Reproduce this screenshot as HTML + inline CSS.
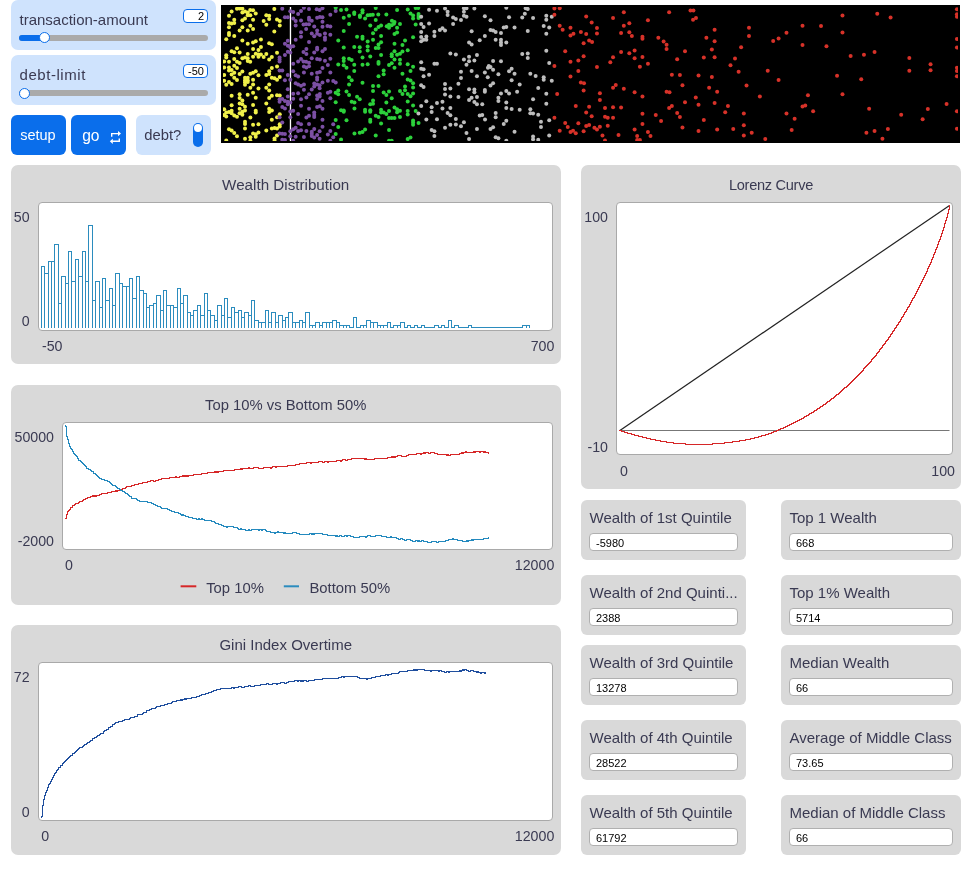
<!DOCTYPE html>
<html><head><meta charset="utf-8"><title>Wealth Distribution</title>
<style>
html,body{margin:0;padding:0;background:#fff;}
body{width:969px;height:874px;position:relative;overflow:hidden;font-family:"Liberation Sans",sans-serif;color:#3a3a52;}
.abs,.pp,.pa,.sl,.btn,.sw,.mon,.t{position:absolute;box-sizing:border-box;}
.pp{background:#d9d9d9;border-radius:7px;}
.pa{background:#fff;border:1px solid #a9a9a9;border-radius:4px;}
.sl{background:#cfe3fd;border-radius:7px;}
.t{white-space:nowrap;line-height:1;}
.ttl{font-size:15px;text-align:center;}
.ax{font-size:14.3px;}
.lab{font-size:15px;}
.track{position:absolute;height:6px;border-radius:3px;background:#aaa;}
.fill{position:absolute;height:6px;border-radius:3px;background:#0a6eeb;}
.thumb{position:absolute;width:11px;height:11px;border-radius:50%;background:#fff;border:1.5px solid #0a6eeb;box-sizing:border-box;}
.vbox{position:absolute;background:#fff;border:1px solid #0a6eeb;border-radius:4px;box-sizing:border-box;font-size:11px;color:#000;text-align:right;line-height:12px;padding-right:3px;}
.btn{background:#0a6eeb;border-radius:6px;color:#fff;font-size:15px;}
.sw{background:#cfe3fd;border-radius:6px;}
.mon{background:#d9d9d9;border-radius:6px;}
.mv{position:absolute;background:#fff;border:1px solid #b0b0b0;border-radius:4px;box-sizing:border-box;font-size:11px;color:#000;line-height:18px;padding-left:6px;height:18.7px;}
svg{position:absolute;overflow:visible;}
.view{left:221px;top:5px;}
</style></head><body>

<div class="sl" style="left:11px;top:-0.5px;width:205px;height:50px"></div><div class="t lab" style="left:19.5px;top:11.7px;letter-spacing:0px">transaction-amount</div><div class="vbox" style="left:183px;top:8.9px;width:25px;height:14px">2</div><div class="track" style="left:19px;top:34.5px;width:189px"></div><div class="fill" style="left:19px;top:34.5px;width:25.700000000000003px"></div><div class="thumb" style="left:39.2px;top:32.0px"></div>
<div class="sl" style="left:11px;top:55px;width:205px;height:50px"></div><div class="t lab" style="left:19.5px;top:67.2px;letter-spacing:0.55px">debt-limit</div><div class="vbox" style="left:183px;top:63.9px;width:25px;height:14px">-50</div><div class="track" style="left:19px;top:90px;width:189px"></div><div class="thumb" style="left:19.25px;top:87.5px"></div>
<div class="btn" style="left:11px;top:115px;width:55px;height:40px"></div><div class="t" style="left:20.2px;top:128px;font-size:14.5px;color:#fff">setup</div>
<div class="btn" style="left:71px;top:115px;width:55px;height:40px"></div><div class="t" style="left:82.2px;top:127.6px;font-size:15.6px;color:#fff">go</div>
<svg style="left:0;top:0" width="969" height="874"><g fill="none" stroke="#fff" stroke-width="1.4"><path d="M111.7 136.8V133.6H118.5"/><path d="M119.3 138.4V141.3H112.3"/></g><path d="M118 131L121 133.6L118 136.2Z" fill="#fff"/><path d="M112.8 138.7L109.8 141.3L112.8 143.9Z" fill="#fff"/></svg>
<div class="sw" style="left:136px;top:115px;width:75px;height:40px"></div><div class="t" style="left:144.2px;top:128.2px;font-size:14.8px">debt?</div>
<div class="abs" style="left:193px;top:123px;width:10px;height:24px;border-radius:5px;background:#0a6eeb"></div><div class="abs" style="left:194px;top:123.7px;width:8px;height:8px;border-radius:50%;background:#fff"></div>
<svg class="view" width="739" height="138" viewBox="221 5 739 138"><rect x="221" y="5" width="739" height="138" fill="#000"/><rect x="289.8" y="7" width="1.34" height="134" fill="#fff"/><clipPath id="vc"><rect x="223" y="7" width="735" height="134"/></clipPath><g clip-path="url(#vc)"><g fill="#f0f04a"><circle cx="231.62" cy="11.56" r="2"/><circle cx="236.99" cy="8.67" r="2"/><circle cx="239.63" cy="8.5" r="2"/><circle cx="242.36" cy="8.67" r="2"/><circle cx="242.36" cy="12.38" r="2"/><circle cx="245" cy="11.56" r="2"/><circle cx="247.72" cy="12.38" r="2"/><circle cx="250.2" cy="9.91" r="2"/><circle cx="253.09" cy="10.32" r="2"/><circle cx="255.73" cy="13.62" r="2"/><circle cx="274.31" cy="8.92" r="2"/><circle cx="228.98" cy="15.69" r="2"/><circle cx="247.72" cy="15.27" r="2"/><circle cx="250.36" cy="15.27" r="2"/><circle cx="266.3" cy="15.27" r="2"/><circle cx="269.19" cy="15.69" r="2"/><circle cx="269.19" cy="18.99" r="2"/><circle cx="234.26" cy="19.81" r="2"/><circle cx="242.36" cy="20.23" r="2"/><circle cx="245" cy="18.58" r="2"/><circle cx="253.09" cy="19.81" r="2"/><circle cx="263.66" cy="21.05" r="2"/><circle cx="277.03" cy="19.4" r="2"/><circle cx="279.75" cy="21.05" r="2"/><circle cx="228.98" cy="23.12" r="2"/><circle cx="231.62" cy="23.53" r="2"/><circle cx="234.26" cy="23.12" r="2"/><circle cx="228.98" cy="27.24" r="2"/><circle cx="242.36" cy="27.24" r="2"/><circle cx="250.36" cy="25.76" r="2"/><circle cx="253.09" cy="28.9" r="2"/><circle cx="239.63" cy="30.55" r="2"/><circle cx="247.72" cy="30.55" r="2"/><circle cx="266.3" cy="24.77" r="2"/><circle cx="279.75" cy="25.43" r="2"/><circle cx="274.31" cy="31.62" r="2"/><circle cx="228.98" cy="33.02" r="2"/><circle cx="228.98" cy="35.09" r="2"/><circle cx="234.26" cy="35.91" r="2"/><circle cx="226.26" cy="39.22" r="2"/><circle cx="242.36" cy="40.62" r="2"/><circle cx="260.93" cy="39.46" r="2"/><circle cx="253.09" cy="42.52" r="2"/><circle cx="255.73" cy="41.28" r="2"/><circle cx="247.72" cy="43.76" r="2"/><circle cx="269.19" cy="43.34" r="2"/><circle cx="271.83" cy="44.17" r="2"/><circle cx="236.99" cy="48.3" r="2"/><circle cx="231.62" cy="51.19" r="2"/><circle cx="234.26" cy="52.18" r="2"/><circle cx="239.63" cy="52.43" r="2"/><circle cx="253.09" cy="49.12" r="2"/><circle cx="260.93" cy="47.06" r="2"/><circle cx="258.45" cy="49.95" r="2"/><circle cx="247.72" cy="54.08" r="2"/><circle cx="255.73" cy="53.66" r="2"/><circle cx="258.45" cy="54.49" r="2"/><circle cx="260.93" cy="54.49" r="2"/><circle cx="266.3" cy="54.08" r="2"/><circle cx="277.03" cy="52.84" r="2"/><circle cx="226.26" cy="55.31" r="2"/><circle cx="226.26" cy="57.38" r="2"/><circle cx="234.26" cy="59.03" r="2"/><circle cx="242.36" cy="58.2" r="2"/><circle cx="245" cy="57.38" r="2"/><circle cx="247.72" cy="58.2" r="2"/><circle cx="253.09" cy="56.8" r="2"/><circle cx="258.45" cy="56.8" r="2"/><circle cx="263.66" cy="56.97" r="2"/><circle cx="271.83" cy="56.97" r="2"/><circle cx="269.19" cy="59.44" r="2"/><circle cx="224.19" cy="61.51" r="2"/><circle cx="228.98" cy="61.75" r="2"/><circle cx="236.99" cy="61.75" r="2"/><circle cx="247.72" cy="61.09" r="2"/><circle cx="250.2" cy="61.75" r="2"/><circle cx="239.63" cy="63.12" r="2"/><circle cx="224.19" cy="67.49" r="2"/><circle cx="228.98" cy="67.49" r="2"/><circle cx="234.26" cy="65.84" r="2"/><circle cx="236.99" cy="67.91" r="2"/><circle cx="271.83" cy="67.91" r="2"/><circle cx="277.03" cy="66.5" r="2"/><circle cx="228.98" cy="70.38" r="2"/><circle cx="231.62" cy="69.97" r="2"/><circle cx="234.26" cy="72.86" r="2"/><circle cx="231.62" cy="74.51" r="2"/><circle cx="224.19" cy="74.92" r="2"/><circle cx="242.36" cy="71.62" r="2"/><circle cx="239.63" cy="74.1" r="2"/><circle cx="255.73" cy="71.21" r="2"/><circle cx="253.09" cy="72.86" r="2"/><circle cx="250.36" cy="73.69" r="2"/><circle cx="258.45" cy="75.17" r="2"/><circle cx="269.19" cy="71.21" r="2"/><circle cx="269.19" cy="74.1" r="2"/><circle cx="266.3" cy="74.92" r="2"/><circle cx="234.26" cy="77.81" r="2"/><circle cx="236.99" cy="79.88" r="2"/><circle cx="245" cy="77.81" r="2"/><circle cx="247.72" cy="77.81" r="2"/><circle cx="245" cy="80.29" r="2"/><circle cx="247.72" cy="80.29" r="2"/><circle cx="245" cy="82.36" r="2"/><circle cx="247.72" cy="81.94" r="2"/><circle cx="253.09" cy="79.63" r="2"/><circle cx="271.83" cy="77.81" r="2"/><circle cx="274.55" cy="78.23" r="2"/><circle cx="277.03" cy="79.63" r="2"/><circle cx="279.75" cy="76.99" r="2"/><circle cx="224.19" cy="80.7" r="2"/><circle cx="228.98" cy="81.94" r="2"/><circle cx="231.62" cy="84.01" r="2"/><circle cx="226.26" cy="84.83" r="2"/><circle cx="245" cy="84.83" r="2"/><circle cx="253.09" cy="84.42" r="2"/><circle cx="269.19" cy="84.42" r="2"/><circle cx="250.36" cy="87.72" r="2"/><circle cx="258.45" cy="88.38" r="2"/><circle cx="266.3" cy="87.72" r="2"/><circle cx="269.19" cy="90.61" r="2"/><circle cx="253.09" cy="92.84" r="2"/><circle cx="231.62" cy="95.81" r="2"/><circle cx="239.63" cy="94.33" r="2"/><circle cx="247.72" cy="94.74" r="2"/><circle cx="239.63" cy="98.04" r="2"/><circle cx="242.36" cy="100.52" r="2"/><circle cx="255.73" cy="97.63" r="2"/><circle cx="271.83" cy="95.81" r="2"/><circle cx="269.19" cy="98.04" r="2"/><circle cx="277.03" cy="95.32" r="2"/><circle cx="279.75" cy="95.56" r="2"/><circle cx="239.63" cy="103.41" r="2"/><circle cx="242.36" cy="104.23" r="2"/><circle cx="266.3" cy="103.57" r="2"/><circle cx="231.62" cy="105.22" r="2"/><circle cx="253.09" cy="105.06" r="2"/><circle cx="245" cy="106.71" r="2"/><circle cx="239.63" cy="108.77" r="2"/><circle cx="245" cy="110.43" r="2"/><circle cx="242.36" cy="111.66" r="2"/><circle cx="239.63" cy="113.31" r="2"/><circle cx="224.19" cy="109.19" r="2"/><circle cx="269.19" cy="108.77" r="2"/><circle cx="271.83" cy="110.43" r="2"/><circle cx="269.19" cy="112.08" r="2"/><circle cx="255.73" cy="110.84" r="2"/><circle cx="255.73" cy="112.49" r="2"/><circle cx="226.26" cy="112.49" r="2"/><circle cx="228.98" cy="112.08" r="2"/><circle cx="231.62" cy="110.84" r="2"/><circle cx="231.62" cy="113.31" r="2"/><circle cx="224.19" cy="114.97" r="2"/><circle cx="226.26" cy="116.62" r="2"/><circle cx="234.26" cy="115.38" r="2"/><circle cx="236.99" cy="116.78" r="2"/><circle cx="242.36" cy="114.8" r="2"/><circle cx="250.36" cy="117.44" r="2"/><circle cx="279.75" cy="114.14" r="2"/><circle cx="277.03" cy="117.28" r="2"/><circle cx="271.83" cy="119.75" r="2"/><circle cx="245" cy="121.63" r="2"/><circle cx="245" cy="123.94" r="2"/><circle cx="253.09" cy="124.77" r="2"/><circle cx="258.45" cy="124.36" r="2"/><circle cx="279.75" cy="124.36" r="2"/><circle cx="279.75" cy="126.42" r="2"/><circle cx="245" cy="128.48" r="2"/><circle cx="228.98" cy="129.31" r="2"/><circle cx="231.62" cy="130.55" r="2"/><circle cx="234.26" cy="133.02" r="2"/><circle cx="266.3" cy="130.55" r="2"/><circle cx="271.83" cy="128.48" r="2"/><circle cx="274.55" cy="128.07" r="2"/><circle cx="277.03" cy="128.48" r="2"/><circle cx="236.99" cy="136.33" r="2"/><circle cx="253.09" cy="133.44" r="2"/><circle cx="255.73" cy="134.26" r="2"/><circle cx="258.45" cy="132.61" r="2"/><circle cx="255.73" cy="136.74" r="2"/><circle cx="250.36" cy="137.15" r="2"/><circle cx="245" cy="138.8" r="2"/><circle cx="226.26" cy="140.45" r="2"/><circle cx="250.36" cy="140.87" r="2"/><circle cx="277.03" cy="135.5" r="2"/><circle cx="274.55" cy="138.39" r="2"/><circle cx="274.55" cy="140.45" r="2"/></g><g fill="#7c50a4"><circle cx="282.28" cy="8.67" r="2"/><circle cx="303.91" cy="7.84" r="2"/><circle cx="309.03" cy="9.08" r="2"/><circle cx="316.71" cy="9.25" r="2"/><circle cx="319.6" cy="9.91" r="2"/><circle cx="322.49" cy="8.26" r="2"/><circle cx="290.29" cy="11.15" r="2"/><circle cx="293.18" cy="11.97" r="2"/><circle cx="301.02" cy="10.98" r="2"/><circle cx="298.13" cy="14.04" r="2"/><circle cx="335.7" cy="10.98" r="2"/><circle cx="330.33" cy="14.7" r="2"/><circle cx="284.92" cy="17.34" r="2"/><circle cx="287.81" cy="17.17" r="2"/><circle cx="293.18" cy="18.58" r="2"/><circle cx="295.66" cy="21.05" r="2"/><circle cx="301.02" cy="20.47" r="2"/><circle cx="309.03" cy="17.75" r="2"/><circle cx="309.03" cy="19.81" r="2"/><circle cx="311.76" cy="20.64" r="2"/><circle cx="317.12" cy="17.75" r="2"/><circle cx="319.85" cy="16.92" r="2"/><circle cx="322.49" cy="17.34" r="2"/><circle cx="322.49" cy="21.63" r="2"/><circle cx="295.66" cy="25.43" r="2"/><circle cx="303.5" cy="24.52" r="2"/><circle cx="306.14" cy="24.36" r="2"/><circle cx="309.03" cy="24.36" r="2"/><circle cx="314.23" cy="26.58" r="2"/><circle cx="322.49" cy="26.83" r="2"/><circle cx="327.44" cy="26.01" r="2"/><circle cx="330.33" cy="26.58" r="2"/><circle cx="306.14" cy="28.9" r="2"/><circle cx="301.02" cy="32.36" r="2"/><circle cx="317.12" cy="30.55" r="2"/><circle cx="311.76" cy="33.44" r="2"/><circle cx="317.12" cy="33.85" r="2"/><circle cx="319.85" cy="35.09" r="2"/><circle cx="314.23" cy="36.16" r="2"/><circle cx="324.97" cy="33.44" r="2"/><circle cx="330.33" cy="34.67" r="2"/><circle cx="301.02" cy="36.74" r="2"/><circle cx="324.97" cy="37.56" r="2"/><circle cx="324.97" cy="39.63" r="2"/><circle cx="295.66" cy="39.79" r="2"/><circle cx="309.03" cy="42.11" r="2"/><circle cx="287.81" cy="40.87" r="2"/><circle cx="284.92" cy="43.76" r="2"/><circle cx="287.81" cy="45.82" r="2"/><circle cx="290.29" cy="46.23" r="2"/><circle cx="293.18" cy="46.23" r="2"/><circle cx="290.29" cy="47.47" r="2"/><circle cx="306.39" cy="49.12" r="2"/><circle cx="317.12" cy="47.72" r="2"/><circle cx="317.12" cy="49.54" r="2"/><circle cx="324.97" cy="49.12" r="2"/><circle cx="322.49" cy="51.19" r="2"/><circle cx="303.5" cy="52.01" r="2"/><circle cx="306.39" cy="54.08" r="2"/><circle cx="314.23" cy="52.43" r="2"/><circle cx="287.81" cy="51.85" r="2"/><circle cx="290.29" cy="52.43" r="2"/><circle cx="284.92" cy="54.9" r="2"/><circle cx="279.56" cy="57.38" r="2"/><circle cx="279.56" cy="59.44" r="2"/><circle cx="301.02" cy="59.03" r="2"/><circle cx="311.76" cy="58.2" r="2"/><circle cx="317.12" cy="59.03" r="2"/><circle cx="319.85" cy="59.44" r="2"/><circle cx="330.33" cy="58.78" r="2"/><circle cx="324.97" cy="60.68" r="2"/><circle cx="298.13" cy="61.51" r="2"/><circle cx="303.5" cy="61.51" r="2"/><circle cx="306.14" cy="61.75" r="2"/><circle cx="279.56" cy="61.51" r="2"/><circle cx="293.18" cy="63.78" r="2"/><circle cx="309.03" cy="62.79" r="2"/><circle cx="327.86" cy="65.02" r="2"/><circle cx="303.91" cy="66.5" r="2"/><circle cx="306.39" cy="67.49" r="2"/><circle cx="309.03" cy="66.26" r="2"/><circle cx="322.49" cy="67.91" r="2"/><circle cx="279.56" cy="70.55" r="2"/><circle cx="282.28" cy="70.38" r="2"/><circle cx="293.18" cy="71.21" r="2"/><circle cx="303.91" cy="72.45" r="2"/><circle cx="311.76" cy="73.69" r="2"/><circle cx="317.12" cy="72.86" r="2"/><circle cx="319.85" cy="72.04" r="2"/><circle cx="330.33" cy="72.45" r="2"/><circle cx="287.81" cy="74.92" r="2"/><circle cx="295.66" cy="75.17" r="2"/><circle cx="298.13" cy="76.58" r="2"/><circle cx="317.12" cy="77.4" r="2"/><circle cx="317.12" cy="79.63" r="2"/><circle cx="284.92" cy="80.29" r="2"/><circle cx="290.29" cy="79.63" r="2"/><circle cx="327.86" cy="80.7" r="2"/><circle cx="333.22" cy="81.12" r="2"/><circle cx="335.7" cy="82.6" r="2"/><circle cx="322.49" cy="82.6" r="2"/><circle cx="295.66" cy="83.18" r="2"/><circle cx="298.13" cy="84.42" r="2"/><circle cx="301.02" cy="85.66" r="2"/><circle cx="303.91" cy="84.42" r="2"/><circle cx="314.23" cy="83.59" r="2"/><circle cx="317.12" cy="84.42" r="2"/><circle cx="319.6" cy="85.24" r="2"/><circle cx="314.23" cy="86.48" r="2"/><circle cx="319.6" cy="88.13" r="2"/><circle cx="287.81" cy="89.21" r="2"/><circle cx="303.91" cy="89.79" r="2"/><circle cx="311.76" cy="89.54" r="2"/><circle cx="293.18" cy="93.67" r="2"/><circle cx="298.13" cy="93.34" r="2"/><circle cx="309.03" cy="94.33" r="2"/><circle cx="327.86" cy="92.67" r="2"/><circle cx="330.33" cy="91.85" r="2"/><circle cx="317.12" cy="95.56" r="2"/><circle cx="319.85" cy="93.91" r="2"/><circle cx="319.6" cy="96.39" r="2"/><circle cx="287.81" cy="96.39" r="2"/><circle cx="306.39" cy="97.46" r="2"/><circle cx="293.18" cy="98.87" r="2"/><circle cx="301.02" cy="99.28" r="2"/><circle cx="317.12" cy="99.03" r="2"/><circle cx="330.33" cy="98.29" r="2"/><circle cx="322.49" cy="101.1" r="2"/><circle cx="279.56" cy="99.28" r="2"/><circle cx="282.28" cy="99.03" r="2"/><circle cx="279.56" cy="101.76" r="2"/><circle cx="284.92" cy="100.93" r="2"/><circle cx="287.81" cy="101.76" r="2"/><circle cx="290.29" cy="102.58" r="2"/><circle cx="287.81" cy="104.23" r="2"/><circle cx="301.02" cy="105.64" r="2"/><circle cx="282.28" cy="106.88" r="2"/><circle cx="284.92" cy="108.53" r="2"/><circle cx="317.12" cy="106.88" r="2"/><circle cx="319.85" cy="106.3" r="2"/><circle cx="322.49" cy="108.77" r="2"/><circle cx="309.03" cy="108.77" r="2"/><circle cx="290.29" cy="111.5" r="2"/><circle cx="293.18" cy="110.84" r="2"/><circle cx="298.13" cy="113.98" r="2"/><circle cx="314.23" cy="112.49" r="2"/><circle cx="314.23" cy="114.97" r="2"/><circle cx="309.03" cy="115.79" r="2"/><circle cx="306.39" cy="117.44" r="2"/><circle cx="314.23" cy="117.03" r="2"/><circle cx="279.56" cy="117.28" r="2"/><circle cx="290.29" cy="117.28" r="2"/><circle cx="322.49" cy="119.75" r="2"/><circle cx="282.28" cy="122.46" r="2"/><circle cx="298.13" cy="123.12" r="2"/><circle cx="301.02" cy="124.36" r="2"/><circle cx="309.03" cy="124.11" r="2"/><circle cx="333.22" cy="124.36" r="2"/><circle cx="322.49" cy="126.83" r="2"/><circle cx="295.66" cy="127.66" r="2"/><circle cx="293.18" cy="129.31" r="2"/><circle cx="290.29" cy="131.21" r="2"/><circle cx="298.13" cy="130.96" r="2"/><circle cx="301.02" cy="130.13" r="2"/><circle cx="306.39" cy="130.96" r="2"/><circle cx="314.23" cy="128.9" r="2"/><circle cx="311.76" cy="131.79" r="2"/><circle cx="319.6" cy="131.37" r="2"/><circle cx="330.33" cy="130.96" r="2"/><circle cx="311.76" cy="133.85" r="2"/><circle cx="311.76" cy="135.91" r="2"/><circle cx="317.12" cy="135.09" r="2"/><circle cx="314.23" cy="137.56" r="2"/><circle cx="327.86" cy="134.51" r="2"/><circle cx="333.22" cy="137.15" r="2"/><circle cx="279.56" cy="133.44" r="2"/><circle cx="282.28" cy="133.85" r="2"/><circle cx="284.92" cy="134.01" r="2"/><circle cx="290.29" cy="136.33" r="2"/><circle cx="295.66" cy="136.74" r="2"/><circle cx="303.91" cy="136.99" r="2"/><circle cx="319.6" cy="138.8" r="2"/><circle cx="282.28" cy="139.63" r="2"/><circle cx="284.92" cy="139.88" r="2"/><circle cx="293.18" cy="140.87" r="2"/><circle cx="330.33" cy="140.87" r="2"/></g><g fill="#2cd13b"><circle cx="335.68" cy="7.74" r="2"/><circle cx="341.04" cy="10.01" r="2"/><circle cx="346.51" cy="9.49" r="2"/><circle cx="375.72" cy="8.05" r="2"/><circle cx="397.08" cy="10.11" r="2"/><circle cx="407.71" cy="9.49" r="2"/><circle cx="415.66" cy="8.05" r="2"/><circle cx="418.24" cy="8.05" r="2"/><circle cx="354.25" cy="12.38" r="2"/><circle cx="354.25" cy="13.93" r="2"/><circle cx="362.51" cy="10.32" r="2"/><circle cx="362.51" cy="12.38" r="2"/><circle cx="359.93" cy="15.48" r="2"/><circle cx="359.93" cy="17.03" r="2"/><circle cx="367.67" cy="15.27" r="2"/><circle cx="370.25" cy="15.07" r="2"/><circle cx="372.83" cy="14.76" r="2"/><circle cx="378.3" cy="14.45" r="2"/><circle cx="386.35" cy="14.55" r="2"/><circle cx="410.5" cy="13.42" r="2"/><circle cx="413.08" cy="15.48" r="2"/><circle cx="413.08" cy="18.58" r="2"/><circle cx="418.54" cy="13.93" r="2"/><circle cx="418.54" cy="16" r="2"/><circle cx="418.54" cy="18.06" r="2"/><circle cx="343.73" cy="17.75" r="2"/><circle cx="349.09" cy="15.69" r="2"/><circle cx="365.09" cy="18.58" r="2"/><circle cx="375.72" cy="20.12" r="2"/><circle cx="391.92" cy="20.64" r="2"/><circle cx="394.5" cy="21.88" r="2"/><circle cx="349.09" cy="23.94" r="2"/><circle cx="370.25" cy="25.49" r="2"/><circle cx="381.08" cy="25.49" r="2"/><circle cx="378.5" cy="27.04" r="2"/><circle cx="375.72" cy="29.41" r="2"/><circle cx="389.03" cy="24.77" r="2"/><circle cx="386.76" cy="26.32" r="2"/><circle cx="389.03" cy="27.66" r="2"/><circle cx="391.71" cy="25.28" r="2"/><circle cx="393.98" cy="23.74" r="2"/><circle cx="399.97" cy="24.05" r="2"/><circle cx="397.08" cy="27.66" r="2"/><circle cx="415.66" cy="24.56" r="2"/><circle cx="343.73" cy="30.96" r="2"/><circle cx="373.03" cy="33.33" r="2"/><circle cx="397.08" cy="32.51" r="2"/><circle cx="394.5" cy="34.06" r="2"/><circle cx="357.04" cy="36.84" r="2"/><circle cx="362.51" cy="36.64" r="2"/><circle cx="362.51" cy="38.7" r="2"/><circle cx="381.08" cy="36.12" r="2"/><circle cx="413.08" cy="37.36" r="2"/><circle cx="338.26" cy="40.56" r="2"/><circle cx="367.67" cy="41.59" r="2"/><circle cx="373.03" cy="39.73" r="2"/><circle cx="381.08" cy="42.31" r="2"/><circle cx="378.5" cy="44.38" r="2"/><circle cx="405.03" cy="40.56" r="2"/><circle cx="394.5" cy="43.86" r="2"/><circle cx="402.45" cy="44.89" r="2"/><circle cx="343.73" cy="47.47" r="2"/><circle cx="354.25" cy="46.96" r="2"/><circle cx="359.72" cy="47.27" r="2"/><circle cx="367.67" cy="46.44" r="2"/><circle cx="367.67" cy="50.57" r="2"/><circle cx="359.72" cy="51.6" r="2"/><circle cx="375.72" cy="47.99" r="2"/><circle cx="378.5" cy="47.99" r="2"/><circle cx="407.71" cy="50.26" r="2"/><circle cx="394.5" cy="51.29" r="2"/><circle cx="402.45" cy="51.6" r="2"/><circle cx="391.71" cy="54.18" r="2"/><circle cx="391.71" cy="56.24" r="2"/><circle cx="397.08" cy="54.7" r="2"/><circle cx="399.97" cy="53.87" r="2"/><circle cx="381.08" cy="55.01" r="2"/><circle cx="370.25" cy="56.45" r="2"/><circle cx="362.51" cy="57.48" r="2"/><circle cx="343.73" cy="58.31" r="2"/><circle cx="343.73" cy="60.89" r="2"/><circle cx="349.09" cy="58.82" r="2"/><circle cx="351.67" cy="60.06" r="2"/><circle cx="394.5" cy="59.55" r="2"/><circle cx="399.97" cy="59.86" r="2"/><circle cx="399.97" cy="63.78" r="2"/><circle cx="378.5" cy="61.92" r="2"/><circle cx="378.5" cy="63.78" r="2"/><circle cx="391.71" cy="63.16" r="2"/><circle cx="389.03" cy="65.02" r="2"/><circle cx="338.26" cy="64.5" r="2"/><circle cx="343.73" cy="65.22" r="2"/><circle cx="354.25" cy="64.71" r="2"/><circle cx="362.51" cy="64.81" r="2"/><circle cx="367.67" cy="64.19" r="2"/><circle cx="407.71" cy="64.29" r="2"/><circle cx="413.08" cy="66.77" r="2"/><circle cx="346.51" cy="67.8" r="2"/><circle cx="394.5" cy="67.8" r="2"/><circle cx="354.25" cy="71" r="2"/><circle cx="383.66" cy="70.38" r="2"/><circle cx="410.5" cy="71" r="2"/><circle cx="383.66" cy="74.3" r="2"/><circle cx="402.45" cy="73.79" r="2"/><circle cx="378.5" cy="76.37" r="2"/><circle cx="349.09" cy="77.19" r="2"/><circle cx="351.67" cy="80.26" r="2"/><circle cx="349.09" cy="84.38" r="2"/><circle cx="362.51" cy="82.84" r="2"/><circle cx="407.71" cy="79.43" r="2"/><circle cx="410.5" cy="80.46" r="2"/><circle cx="413.08" cy="83.35" r="2"/><circle cx="373.03" cy="85.93" r="2"/><circle cx="378.5" cy="85.93" r="2"/><circle cx="405.03" cy="86.45" r="2"/><circle cx="413.08" cy="87.48" r="2"/><circle cx="338.26" cy="90.58" r="2"/><circle cx="335.68" cy="92.64" r="2"/><circle cx="338.26" cy="94.19" r="2"/><circle cx="346.51" cy="91.61" r="2"/><circle cx="349.09" cy="94.91" r="2"/><circle cx="373.03" cy="90.89" r="2"/><circle cx="383.66" cy="92.43" r="2"/><circle cx="389.03" cy="91.4" r="2"/><circle cx="386.35" cy="94.91" r="2"/><circle cx="399.97" cy="90.89" r="2"/><circle cx="405.03" cy="90.37" r="2"/><circle cx="402.45" cy="93.88" r="2"/><circle cx="407.71" cy="93.88" r="2"/><circle cx="410.5" cy="96.25" r="2"/><circle cx="413.08" cy="93.47" r="2"/><circle cx="357.04" cy="96.77" r="2"/><circle cx="359.72" cy="99.35" r="2"/><circle cx="391.71" cy="98.32" r="2"/><circle cx="373.03" cy="100.38" r="2"/><circle cx="335.68" cy="102.13" r="2"/><circle cx="351.67" cy="101.72" r="2"/><circle cx="354.46" cy="102.55" r="2"/><circle cx="370.25" cy="104.2" r="2"/><circle cx="373.03" cy="103.79" r="2"/><circle cx="386.35" cy="102.55" r="2"/><circle cx="407.71" cy="101.41" r="2"/><circle cx="413.08" cy="105.54" r="2"/><circle cx="341.04" cy="110.18" r="2"/><circle cx="343.73" cy="110.39" r="2"/><circle cx="343.73" cy="111.73" r="2"/><circle cx="354.46" cy="108.43" r="2"/><circle cx="365.09" cy="109.67" r="2"/><circle cx="365.09" cy="111.73" r="2"/><circle cx="370.25" cy="110.18" r="2"/><circle cx="370.25" cy="111.73" r="2"/><circle cx="381.08" cy="109.67" r="2"/><circle cx="381.08" cy="112.56" r="2"/><circle cx="383.66" cy="112.56" r="2"/><circle cx="386.35" cy="114.11" r="2"/><circle cx="389.03" cy="111.01" r="2"/><circle cx="394.5" cy="107.6" r="2"/><circle cx="397.08" cy="109.15" r="2"/><circle cx="399.97" cy="110.7" r="2"/><circle cx="397.08" cy="112.25" r="2"/><circle cx="407.71" cy="111.01" r="2"/><circle cx="407.71" cy="114.52" r="2"/><circle cx="415.66" cy="111.01" r="2"/><circle cx="375.72" cy="115.86" r="2"/><circle cx="378.5" cy="116.89" r="2"/><circle cx="389.03" cy="117.92" r="2"/><circle cx="391.71" cy="117.92" r="2"/><circle cx="394.5" cy="117.92" r="2"/><circle cx="399.97" cy="117.1" r="2"/><circle cx="335.68" cy="119.99" r="2"/><circle cx="346.51" cy="120.19" r="2"/><circle cx="370.25" cy="119.68" r="2"/><circle cx="370.25" cy="121.85" r="2"/><circle cx="381.08" cy="123.6" r="2"/><circle cx="413.08" cy="120.5" r="2"/><circle cx="413.08" cy="122.57" r="2"/><circle cx="413.08" cy="124.84" r="2"/><circle cx="418.54" cy="123.08" r="2"/><circle cx="338.26" cy="127.01" r="2"/><circle cx="365.09" cy="129.48" r="2"/><circle cx="389.03" cy="130" r="2"/><circle cx="335.68" cy="133.92" r="2"/><circle cx="354.46" cy="133.61" r="2"/><circle cx="359.72" cy="132.68" r="2"/><circle cx="362.51" cy="132.06" r="2"/><circle cx="375.72" cy="135.47" r="2"/><circle cx="341.04" cy="139.6" r="2"/><circle cx="407.71" cy="139.08" r="2"/><circle cx="410.5" cy="137.53" r="2"/><circle cx="389.03" cy="140.63" r="2"/><circle cx="391.71" cy="140.63" r="2"/></g><g fill="#bdbdbd"><circle cx="429.07" cy="9.78" r="2"/><circle cx="436.97" cy="10.64" r="2"/><circle cx="445.03" cy="8.58" r="2"/><circle cx="447.61" cy="11.67" r="2"/><circle cx="463.91" cy="8.24" r="2"/><circle cx="466.48" cy="8.24" r="2"/><circle cx="463.91" cy="11.67" r="2"/><circle cx="474.38" cy="8.58" r="2"/><circle cx="506.3" cy="7.72" r="2"/><circle cx="525.69" cy="8.24" r="2"/><circle cx="527.75" cy="8.92" r="2"/><circle cx="524.83" cy="13.73" r="2"/><circle cx="421.18" cy="16.65" r="2"/><circle cx="447.61" cy="15.1" r="2"/><circle cx="453.1" cy="17.5" r="2"/><circle cx="455.84" cy="18.88" r="2"/><circle cx="463.91" cy="15.79" r="2"/><circle cx="466.48" cy="16.82" r="2"/><circle cx="460.99" cy="19.91" r="2"/><circle cx="484.85" cy="16.3" r="2"/><circle cx="490.51" cy="20.25" r="2"/><circle cx="509.04" cy="17.16" r="2"/><circle cx="522.26" cy="17.5" r="2"/><circle cx="533.07" cy="18.02" r="2"/><circle cx="546.29" cy="15.79" r="2"/><circle cx="551.78" cy="16.82" r="2"/><circle cx="546.29" cy="19.74" r="2"/><circle cx="421.18" cy="24.03" r="2"/><circle cx="429.07" cy="23.51" r="2"/><circle cx="423.58" cy="26.94" r="2"/><circle cx="453.1" cy="24.03" r="2"/><circle cx="442.46" cy="28.32" r="2"/><circle cx="439.88" cy="30.03" r="2"/><circle cx="445.03" cy="30.55" r="2"/><circle cx="503.72" cy="27.46" r="2"/><circle cx="506.3" cy="26.94" r="2"/><circle cx="514.54" cy="27.46" r="2"/><circle cx="543.71" cy="26.09" r="2"/><circle cx="549.2" cy="27.46" r="2"/><circle cx="421.18" cy="32.09" r="2"/><circle cx="434.39" cy="31.75" r="2"/><circle cx="471.63" cy="31.23" r="2"/><circle cx="490.51" cy="30.03" r="2"/><circle cx="493.08" cy="30.55" r="2"/><circle cx="495.66" cy="32.09" r="2"/><circle cx="500.98" cy="33.12" r="2"/><circle cx="527.75" cy="30.89" r="2"/><circle cx="546.29" cy="33.81" r="2"/><circle cx="421.18" cy="36.9" r="2"/><circle cx="426.33" cy="36.38" r="2"/><circle cx="434.39" cy="36.04" r="2"/><circle cx="423.58" cy="39.81" r="2"/><circle cx="426.33" cy="39.81" r="2"/><circle cx="421.18" cy="41.19" r="2"/><circle cx="484.85" cy="36.04" r="2"/><circle cx="479.7" cy="40.33" r="2"/><circle cx="495.66" cy="39.81" r="2"/><circle cx="500.98" cy="39.81" r="2"/><circle cx="500.98" cy="42.39" r="2"/><circle cx="500.98" cy="44.96" r="2"/><circle cx="506.3" cy="42.39" r="2"/><circle cx="469.06" cy="42.56" r="2"/><circle cx="471.63" cy="44.62" r="2"/><circle cx="450.35" cy="53.54" r="2"/><circle cx="455.84" cy="54.57" r="2"/><circle cx="476.95" cy="54.92" r="2"/><circle cx="469.06" cy="56.63" r="2"/><circle cx="546.29" cy="50.63" r="2"/><circle cx="522.26" cy="54.06" r="2"/><circle cx="527.75" cy="53.54" r="2"/><circle cx="527.75" cy="58.01" r="2"/><circle cx="421.18" cy="62.3" r="2"/><circle cx="434.39" cy="63.84" r="2"/><circle cx="436.97" cy="63.84" r="2"/><circle cx="463.91" cy="59.55" r="2"/><circle cx="469.06" cy="61.27" r="2"/><circle cx="474.38" cy="60.41" r="2"/><circle cx="466.48" cy="64.87" r="2"/><circle cx="493.08" cy="60.92" r="2"/><circle cx="500.98" cy="61.27" r="2"/><circle cx="549.2" cy="62.98" r="2"/><circle cx="421.18" cy="68.65" r="2"/><circle cx="423.58" cy="69.16" r="2"/><circle cx="488.79" cy="66.07" r="2"/><circle cx="490.51" cy="66.93" r="2"/><circle cx="487.94" cy="67.79" r="2"/><circle cx="493.08" cy="69.85" r="2"/><circle cx="511.62" cy="68.65" r="2"/><circle cx="509.04" cy="71.22" r="2"/><circle cx="460.99" cy="71.74" r="2"/><circle cx="471.63" cy="70.88" r="2"/><circle cx="484.85" cy="72.42" r="2"/><circle cx="429.07" cy="74.65" r="2"/><circle cx="423.58" cy="76.37" r="2"/><circle cx="476.95" cy="76.37" r="2"/><circle cx="498.4" cy="74.31" r="2"/><circle cx="514.54" cy="73.79" r="2"/><circle cx="530.33" cy="73.79" r="2"/><circle cx="535.65" cy="76.03" r="2"/><circle cx="543.71" cy="77.23" r="2"/><circle cx="543.71" cy="79.8" r="2"/><circle cx="551.78" cy="80.66" r="2"/><circle cx="460.99" cy="78.08" r="2"/><circle cx="487.76" cy="77.23" r="2"/><circle cx="511.62" cy="80.32" r="2"/><circle cx="445.03" cy="84.09" r="2"/><circle cx="458.42" cy="83.75" r="2"/><circle cx="493.08" cy="83.23" r="2"/><circle cx="490.51" cy="85.46" r="2"/><circle cx="519.69" cy="84.61" r="2"/><circle cx="421.18" cy="85.29" r="2"/><circle cx="423.58" cy="87.01" r="2"/><circle cx="445.03" cy="88.9" r="2"/><circle cx="450.35" cy="88.38" r="2"/><circle cx="469.06" cy="89.24" r="2"/><circle cx="474.38" cy="89.58" r="2"/><circle cx="474.38" cy="92.33" r="2"/><circle cx="484.85" cy="90.1" r="2"/><circle cx="484.85" cy="91.81" r="2"/><circle cx="506.3" cy="90.96" r="2"/><circle cx="500.98" cy="93.53" r="2"/><circle cx="509.04" cy="93.53" r="2"/><circle cx="517.11" cy="91.81" r="2"/><circle cx="538.22" cy="88.04" r="2"/><circle cx="546.29" cy="93.87" r="2"/><circle cx="445.03" cy="94.39" r="2"/><circle cx="450.35" cy="96.62" r="2"/><circle cx="458.42" cy="96.96" r="2"/><circle cx="471.63" cy="97.82" r="2"/><circle cx="469.06" cy="99.88" r="2"/><circle cx="476.95" cy="96.96" r="2"/><circle cx="498.4" cy="97.82" r="2"/><circle cx="498.4" cy="100.91" r="2"/><circle cx="533.07" cy="99.19" r="2"/><circle cx="426.33" cy="101.25" r="2"/><circle cx="436.97" cy="102.97" r="2"/><circle cx="442.46" cy="101.77" r="2"/><circle cx="474.38" cy="102.11" r="2"/><circle cx="476.95" cy="104.17" r="2"/><circle cx="482.27" cy="104.17" r="2"/><circle cx="506.3" cy="102.45" r="2"/><circle cx="546.29" cy="103.66" r="2"/><circle cx="421.18" cy="106.06" r="2"/><circle cx="431.65" cy="107.26" r="2"/><circle cx="442.46" cy="108.46" r="2"/><circle cx="450.35" cy="108.12" r="2"/><circle cx="506.3" cy="108.12" r="2"/><circle cx="511.62" cy="108.98" r="2"/><circle cx="519.69" cy="109.83" r="2"/><circle cx="530.33" cy="109.32" r="2"/><circle cx="431.65" cy="111.89" r="2"/><circle cx="447.61" cy="112.92" r="2"/><circle cx="450.35" cy="115.33" r="2"/><circle cx="495.66" cy="112.92" r="2"/><circle cx="530.33" cy="113.27" r="2"/><circle cx="533.07" cy="113.61" r="2"/><circle cx="538.22" cy="114.64" r="2"/><circle cx="479.7" cy="115.5" r="2"/><circle cx="482.27" cy="114.98" r="2"/><circle cx="495.66" cy="117.21" r="2"/><circle cx="418.43" cy="113.61" r="2"/><circle cx="426.33" cy="119.62" r="2"/><circle cx="436.97" cy="119.27" r="2"/><circle cx="455.84" cy="118.93" r="2"/><circle cx="485.02" cy="119.62" r="2"/><circle cx="506.3" cy="120.65" r="2"/><circle cx="549.2" cy="120.13" r="2"/><circle cx="463.91" cy="122.19" r="2"/><circle cx="540.97" cy="121.85" r="2"/><circle cx="450.35" cy="124.76" r="2"/><circle cx="455.84" cy="124.42" r="2"/><circle cx="460.99" cy="126.14" r="2"/><circle cx="503.72" cy="123.91" r="2"/><circle cx="445.03" cy="127.85" r="2"/><circle cx="493.08" cy="127.34" r="2"/><circle cx="490.51" cy="129.05" r="2"/><circle cx="540.97" cy="127" r="2"/><circle cx="476.95" cy="129.05" r="2"/><circle cx="431.65" cy="129.91" r="2"/><circle cx="434.39" cy="131.29" r="2"/><circle cx="514.54" cy="131.8" r="2"/><circle cx="466.48" cy="133" r="2"/><circle cx="434.39" cy="135.92" r="2"/><circle cx="533.07" cy="136.43" r="2"/><circle cx="549.2" cy="135.58" r="2"/><circle cx="495.66" cy="137.29" r="2"/><circle cx="498.4" cy="138.15" r="2"/><circle cx="469.06" cy="139.01" r="2"/><circle cx="533.07" cy="139.35" r="2"/><circle cx="538.22" cy="139.69" r="2"/><circle cx="506.3" cy="140.72" r="2"/></g><g fill="#d73229"><circle cx="554.41" cy="8.43" r="2"/><circle cx="559.71" cy="8.24" r="2"/><circle cx="554.41" cy="14.71" r="2"/><circle cx="623.82" cy="12.16" r="2"/><circle cx="669.12" cy="12.16" r="2"/><circle cx="690.49" cy="10.39" r="2"/><circle cx="693.43" cy="10.39" r="2"/><circle cx="586.18" cy="16.47" r="2"/><circle cx="613.04" cy="18.04" r="2"/><circle cx="695.98" cy="18.04" r="2"/><circle cx="693.04" cy="19.8" r="2"/><circle cx="647.94" cy="20.2" r="2"/><circle cx="591.67" cy="22.55" r="2"/><circle cx="629.31" cy="23.33" r="2"/><circle cx="559.71" cy="25.69" r="2"/><circle cx="623.82" cy="25.69" r="2"/><circle cx="570.49" cy="27.65" r="2"/><circle cx="596.96" cy="28.04" r="2"/><circle cx="562.65" cy="29.8" r="2"/><circle cx="714.61" cy="29.8" r="2"/><circle cx="580.88" cy="31.96" r="2"/><circle cx="629.31" cy="32.35" r="2"/><circle cx="573.43" cy="33.73" r="2"/><circle cx="586.18" cy="34.12" r="2"/><circle cx="596.96" cy="33.53" r="2"/><circle cx="621.08" cy="32.94" r="2"/><circle cx="570.49" cy="35.49" r="2"/><circle cx="631.86" cy="35.88" r="2"/><circle cx="642.45" cy="36.67" r="2"/><circle cx="642.45" cy="38.82" r="2"/><circle cx="658.33" cy="37.65" r="2"/><circle cx="706.37" cy="37.84" r="2"/><circle cx="589.12" cy="40.59" r="2"/><circle cx="592.06" cy="41.96" r="2"/><circle cx="663.63" cy="41.57" r="2"/><circle cx="714.61" cy="41.18" r="2"/><circle cx="583.63" cy="43.14" r="2"/><circle cx="666.57" cy="44.71" r="2"/><circle cx="666.57" cy="49.02" r="2"/><circle cx="711.86" cy="49.61" r="2"/><circle cx="565.2" cy="51.37" r="2"/><circle cx="621.08" cy="51.96" r="2"/><circle cx="634.61" cy="50.59" r="2"/><circle cx="685" cy="51.37" r="2"/><circle cx="629.31" cy="53.14" r="2"/><circle cx="583.63" cy="56.27" r="2"/><circle cx="613.04" cy="57.25" r="2"/><circle cx="642.45" cy="57.06" r="2"/><circle cx="634.61" cy="58.24" r="2"/><circle cx="703.82" cy="57.45" r="2"/><circle cx="714.61" cy="57.25" r="2"/><circle cx="677.16" cy="59.22" r="2"/><circle cx="735" cy="58.43" r="2"/><circle cx="578.33" cy="60.39" r="2"/><circle cx="570.49" cy="61.76" r="2"/><circle cx="610.29" cy="62.35" r="2"/><circle cx="647.94" cy="63.73" r="2"/><circle cx="554.41" cy="65.88" r="2"/><circle cx="596.96" cy="67.06" r="2"/><circle cx="639.9" cy="66.67" r="2"/><circle cx="730.49" cy="65.29" r="2"/><circle cx="578.33" cy="70.98" r="2"/><circle cx="671.86" cy="74.71" r="2"/><circle cx="679.9" cy="75.1" r="2"/><circle cx="698.53" cy="75.49" r="2"/><circle cx="570.49" cy="76.47" r="2"/><circle cx="711.86" cy="77.06" r="2"/><circle cx="580.88" cy="82.55" r="2"/><circle cx="584.02" cy="83.14" r="2"/><circle cx="615.78" cy="84.9" r="2"/><circle cx="682.45" cy="85.29" r="2"/><circle cx="613.04" cy="87.65" r="2"/><circle cx="623.82" cy="88.63" r="2"/><circle cx="709.12" cy="87.84" r="2"/><circle cx="583.63" cy="90.59" r="2"/><circle cx="634.61" cy="92.16" r="2"/><circle cx="666.57" cy="91.76" r="2"/><circle cx="669.51" cy="92.16" r="2"/><circle cx="717.16" cy="91.76" r="2"/><circle cx="557.16" cy="94.12" r="2"/><circle cx="599.9" cy="93.33" r="2"/><circle cx="642.45" cy="96.47" r="2"/><circle cx="695.78" cy="97.45" r="2"/><circle cx="599.9" cy="100" r="2"/><circle cx="685" cy="102.16" r="2"/><circle cx="714.61" cy="102.94" r="2"/><circle cx="698.53" cy="104.71" r="2"/><circle cx="575.78" cy="105.88" r="2"/><circle cx="589.12" cy="106.86" r="2"/><circle cx="613.04" cy="107.25" r="2"/><circle cx="621.08" cy="107.45" r="2"/><circle cx="605" cy="108.04" r="2"/><circle cx="671.86" cy="105.88" r="2"/><circle cx="669.12" cy="108.04" r="2"/><circle cx="727.94" cy="105.88" r="2"/><circle cx="586.18" cy="112.55" r="2"/><circle cx="725.2" cy="112.16" r="2"/><circle cx="677.16" cy="112.94" r="2"/><circle cx="642.45" cy="113.73" r="2"/><circle cx="655.78" cy="114.9" r="2"/><circle cx="591.67" cy="116.27" r="2"/><circle cx="605" cy="116.67" r="2"/><circle cx="607.75" cy="117.65" r="2"/><circle cx="613.04" cy="117.84" r="2"/><circle cx="554.41" cy="117.84" r="2"/><circle cx="679.9" cy="117.06" r="2"/><circle cx="661.08" cy="120.98" r="2"/><circle cx="703.82" cy="120" r="2"/><circle cx="565.2" cy="122.94" r="2"/><circle cx="578.33" cy="123.33" r="2"/><circle cx="642.45" cy="124.12" r="2"/><circle cx="589.12" cy="124.9" r="2"/><circle cx="586.18" cy="125.88" r="2"/><circle cx="607.75" cy="125.69" r="2"/><circle cx="599.9" cy="126.86" r="2"/><circle cx="567.75" cy="127.06" r="2"/><circle cx="594.41" cy="127.65" r="2"/><circle cx="682.45" cy="127.45" r="2"/><circle cx="596.96" cy="129.61" r="2"/><circle cx="634.61" cy="129.61" r="2"/><circle cx="717.16" cy="129.41" r="2"/><circle cx="733.24" cy="129.02" r="2"/><circle cx="559.71" cy="130.78" r="2"/><circle cx="570.49" cy="131.96" r="2"/><circle cx="573.04" cy="130.78" r="2"/><circle cx="583.63" cy="131.18" r="2"/><circle cx="698.53" cy="130.98" r="2"/><circle cx="647.94" cy="131.96" r="2"/><circle cx="575.78" cy="133.33" r="2"/><circle cx="602.45" cy="135.49" r="2"/><circle cx="618.53" cy="135.1" r="2"/><circle cx="637.16" cy="136.08" r="2"/><circle cx="650.49" cy="136.08" r="2"/><circle cx="637.16" cy="140" r="2"/><circle cx="639.9" cy="140" r="2"/><circle cx="605" cy="140.59" r="2"/><circle cx="842.48" cy="15.54" r="2"/><circle cx="877.26" cy="13.81" r="2"/><circle cx="890.58" cy="17.51" r="2"/><circle cx="956.94" cy="9.37" r="2"/><circle cx="956.94" cy="14.31" r="2"/><circle cx="956.94" cy="16.77" r="2"/><circle cx="748.99" cy="27.87" r="2"/><circle cx="802.52" cy="25.65" r="2"/><circle cx="821.02" cy="25.9" r="2"/><circle cx="786.49" cy="32.81" r="2"/><circle cx="842.48" cy="32.56" r="2"/><circle cx="748.99" cy="36.01" r="2"/><circle cx="778.59" cy="38.48" r="2"/><circle cx="773.17" cy="40.95" r="2"/><circle cx="956.94" cy="38.97" r="2"/><circle cx="741.1" cy="47.36" r="2"/><circle cx="802.52" cy="44.89" r="2"/><circle cx="826.45" cy="46.13" r="2"/><circle cx="956.94" cy="47.61" r="2"/><circle cx="874.55" cy="52.05" r="2"/><circle cx="863.94" cy="54.76" r="2"/><circle cx="850.62" cy="55.99" r="2"/><circle cx="909.33" cy="57.97" r="2"/><circle cx="930.54" cy="64.13" r="2"/><circle cx="738.63" cy="71.78" r="2"/><circle cx="767.74" cy="70.79" r="2"/><circle cx="909.33" cy="70.79" r="2"/><circle cx="930.54" cy="70.3" r="2"/><circle cx="956.94" cy="67.83" r="2"/><circle cx="956.94" cy="71.04" r="2"/><circle cx="837.05" cy="75.73" r="2"/><circle cx="956.94" cy="76.22" r="2"/><circle cx="778.59" cy="79.92" r="2"/><circle cx="861.23" cy="79.18" r="2"/><circle cx="746.53" cy="85.59" r="2"/><circle cx="842.48" cy="94.23" r="2"/><circle cx="807.95" cy="95.21" r="2"/><circle cx="759.85" cy="96.45" r="2"/><circle cx="802.52" cy="106.56" r="2"/><circle cx="805.23" cy="105.57" r="2"/><circle cx="869.12" cy="108.78" r="2"/><circle cx="813.13" cy="111.25" r="2"/><circle cx="927.83" cy="109.03" r="2"/><circle cx="946.58" cy="104.09" r="2"/><circle cx="956.94" cy="111.25" r="2"/><circle cx="743.81" cy="113.47" r="2"/><circle cx="786.49" cy="113.47" r="2"/><circle cx="901.19" cy="114.7" r="2"/><circle cx="794.63" cy="118.65" r="2"/><circle cx="922.65" cy="119.14" r="2"/><circle cx="743.81" cy="125.31" r="2"/><circle cx="791.67" cy="130" r="2"/><circle cx="887.87" cy="129.01" r="2"/><circle cx="874.55" cy="130.98" r="2"/><circle cx="866.41" cy="132.71" r="2"/><circle cx="956.94" cy="128.76" r="2"/><circle cx="751.71" cy="132.71" r="2"/><circle cx="743.81" cy="135.42" r="2"/><circle cx="765.27" cy="138.88" r="2"/><circle cx="882.44" cy="138.63" r="2"/></g></g></svg>
<div class="pp" style="left:11px;top:165.2px;width:550px;height:199.2px"></div><div class="pa" style="left:38px;top:202px;width:515px;height:129px"></div>
<div class="pp" style="left:11px;top:385.4px;width:550px;height:219.2px"></div><div class="pa" style="left:62px;top:422px;width:491px;height:128px"></div>
<div class="pp" style="left:11px;top:625px;width:550px;height:229.6px"></div><div class="pa" style="left:38px;top:662px;width:515px;height:159px"></div>
<div class="pp" style="left:581px;top:165.2px;width:380px;height:324.2px"></div><div class="pa" style="left:616px;top:202px;width:337px;height:253px"></div>
<svg style="left:0;top:0" width="969" height="874" font-family="Liberation Sans, sans-serif" fill="#3a3a52"><text x="285.7" y="189.5" font-size="15.2" text-anchor="middle">Wealth Distribution</text><text x="285.7" y="410" font-size="14.8" text-anchor="middle">Top 10% vs Bottom 50%</text><text x="285.7" y="650" font-size="15" text-anchor="middle">Gini Index Overtime</text><text x="771" y="189.5" font-size="14.6" text-anchor="middle" letter-spacing="-0.3">Lorenz Curve</text><text x="29.6" y="221.7" font-size="14.2" text-anchor="end">50</text><text x="29.6" y="326.4" font-size="14.2" text-anchor="end">0</text><text x="42" y="350.6" font-size="14.2" text-anchor="start">-50</text><text x="554.3" y="350.6" font-size="14.2" text-anchor="end">700</text><text x="54" y="441.7" font-size="14.2" text-anchor="end">50000</text><text x="54" y="545.5" font-size="14.2" text-anchor="end">-2000</text><text x="65" y="569.9" font-size="14.2" text-anchor="start">0</text><text x="554.3" y="569.9" font-size="14.2" text-anchor="end">12000</text><path d="M180.6 586.3H196.3" stroke="#d62728" stroke-width="2"/><text x="206.2" y="592.5" font-size="14.85" text-anchor="start">Top 10%</text><path d="M283.8 586.3H299" stroke="#2b8cbe" stroke-width="2"/><text x="309.4" y="592.5" font-size="14.85" text-anchor="start">Bottom 50%</text><text x="29.6" y="682" font-size="14.2" text-anchor="end">72</text><text x="29.6" y="816.8" font-size="14.2" text-anchor="end">0</text><text x="41.3" y="840.6" font-size="14.2" text-anchor="start">0</text><text x="554.3" y="840.6" font-size="14.2" text-anchor="end">12000</text><text x="608" y="221.7" font-size="14.2" text-anchor="end">100</text><text x="608" y="451.5" font-size="14.2" text-anchor="end">-10</text><text x="620" y="475.7" font-size="14.2" text-anchor="start">0</text><text x="955" y="475.7" font-size="14.2" text-anchor="end">100</text><path d="M41.5 328V266M44.5 328V266M48.5 328V261M51.5 328V261M54.5 328V244M58.5 328V244M61.5 328V276M65.5 328V276M68.5 328V251M71.5 328V251M75.5 328V259M78.5 328V259M82.5 328V251M85.5 328V251M88.5 328V225M92.5 328V225M95.5 328V281M99.5 328V281M102.5 328V278M105.5 328V278M109.5 328V288M112.5 328V288M115.5 328V273M119.5 328V273M122.5 328V283M126.5 328V286M129.5 328V278M132.5 328V278M136.5 328V276M139.5 328V276M143.5 328V290M146.5 328V293M149.5 328V305M153.5 328V303M156.5 328V295M160.5 328V295M163.5 328V290M166.5 328V290M170.5 328V305M173.5 328V305M177.5 328V288M180.5 328V288M183.5 328V295M187.5 328V295M190.5 328V312M193.5 328V310M197.5 328V305M200.5 328V305M204.5 328V293M207.5 328V293M210.5 328V310M214.5 328V315M217.5 328V305M221.5 328V305M224.5 328V298M227.5 328V298M231.5 328V307M234.5 328V307M238.5 328V310M241.5 328V310M244.5 328V312M248.5 328V312M251.5 328V300M254.5 328V300M258.5 328V320M261.5 328V322M265.5 328V310M268.5 328V310M271.5 328V312M275.5 328V312M278.5 328V315M282.5 328V315M285.5 328V317M288.5 328V312M292.5 328V312M295.5 328V322M299.5 328V320M302.5 328V320M305.5 328V312M309.5 328V312M312.5 328V325M315.5 328V322M319.5 328V322M322.5 328V322M326.5 328V322M329.5 328V322M332.5 328V320M336.5 328V320M339.5 328V322M343.5 328V325M346.5 328V325M349.5 328V325M353.5 328V317M356.5 328V317M360.5 328V325M363.5 328V325M366.5 328V320M370.5 328V320M373.5 328V322M377.5 328V322M380.5 328V325M383.5 328V325M387.5 328V322M390.5 328V322M393.5 328V325M397.5 328V325M400.5 328V322M404.5 328V322M407.5 328V325M410.5 328V325M414.5 328V325M417.5 328V325M421.5 328V325M424.5 328V325M434.5 328V325M438.5 328V325M441.5 328V325M444.5 328V325M448.5 328V320M451.5 328V320M454.5 328V325M458.5 328V325M468.5 328V325M471.5 328V325M522.5 328V325M526.5 328V325M529.5 328V325M41 266.5H45M44 273.5H49M48 261.5H52M51 261.5H55M54 244.5H59M58 303.5H62M61 276.5H66M65 283.5H69M68 251.5H72M71 281.5H76M75 259.5H79M78 276.5H83M82 251.5H86M85 281.5H89M88 225.5H93M92 300.5H96M95 281.5H100M99 307.5H103M102 278.5H106M105 300.5H110M109 288.5H113M112 305.5H116M115 273.5H120M119 283.5H123M122 286.5H127M126 286.5H130M129 278.5H133M132 298.5H137M136 276.5H140M139 290.5H144M143 293.5H147M146 307.5H150M149 305.5H154M153 303.5H157M156 295.5H161M160 310.5H164M163 290.5H167M166 305.5H171M170 305.5H174M173 307.5H178M177 288.5H181M180 303.5H184M183 295.5H188M187 312.5H191M190 315.5H194M193 310.5H198M197 305.5H201M200 315.5H205M204 293.5H208M207 310.5H211M210 315.5H215M214 320.5H218M217 305.5H222M221 315.5H225M224 298.5H228M227 317.5H232M231 307.5H235M234 312.5H239M238 310.5H242M241 317.5H245M244 312.5H249M248 315.5H252M251 300.5H255M254 320.5H259M258 322.5H262M261 322.5H266M265 310.5H269M268 322.5H272M271 312.5H276M275 322.5H279M278 315.5H283M282 320.5H286M285 317.5H289M288 312.5H293M292 322.5H296M295 322.5H300M299 320.5H303M302 322.5H306M305 312.5H310M309 325.5H313M312 325.5H316M315 322.5H320M319 325.5H323M322 322.5H327M326 322.5H330M329 322.5H333M332 320.5H337M336 322.5H340M339 325.5H344M343 325.5H347M346 325.5H350M349 327.5H354M353 317.5H357M356 327.5H361M360 325.5H364M363 325.5H367M366 320.5H371M370 322.5H374M373 322.5H378M377 325.5H381M380 325.5H384M383 325.5H388M387 322.5H391M390 327.5H394M393 325.5H398M397 325.5H401M400 322.5H405M404 327.5H408M407 325.5H411M410 327.5H415M414 325.5H418M417 327.5H422M421 325.5H425M424 327.5H428M427 327.5H432M431 327.5H435M434 325.5H439M438 327.5H442M441 325.5H445M444 327.5H449M448 320.5H452M451 327.5H455M454 325.5H459M458 327.5H462M461 327.5H466M465 327.5H469M468 325.5H472M471 327.5H476M475 327.5H479M478 327.5H483M482 327.5H486M485 327.5H489M488 327.5H493M492 327.5H496M495 327.5H500M499 327.5H503M502 327.5H506M505 327.5H510M509 327.5H513M512 327.5H517M516 327.5H520M519 327.5H523M522 325.5H527M526 325.5H530" fill="none" stroke="#2b8cbe" stroke-width="1" shape-rendering="crispEdges"/><path d="M65 518.5H66M66.5 514V519M67.5 511V515M68.5 510V512M69.5 509V511M70.5 507V510M71 507.5H72M72.5 505V508M73 505.5H74M74.5 504V506M75.5 503V505M76 503.5H77M77 503.5H78M78.5 502V504M79.5 501V503M80 501.5H81M81 501.5H82M82.5 500V502M83.5 499V501M84 499.5H85M85.5 498V500M86 498.5H87M87.5 497V499M88 497.5H89M89 497.5H90M90.5 496V498M91 496.5H92M92.5 495V497M93.5 495V497M94.5 495V497M95.5 495V497M96.5 495V497M97 495.5H98M98 495.5H99M99.5 494V496M100 494.5H101M101.5 493V495M102 493.5H103M103 493.5H104M104 493.5H105M105 493.5H106M106 493.5H107M107.5 492V494M108 492.5H109M109 492.5H110M110 492.5H111M111.5 491V493M112 491.5H113M113 491.5H114M114 491.5H115M115.5 490V492M116.5 490V492M117.5 490V492M118 490.5H119M119.5 489V491M120 489.5H121M121 489.5H122M122.5 488V490M123 488.5H124M124 488.5H125M125.5 487V489M126.5 486V488M127 486.5H128M128 486.5H129M129 486.5H130M130 486.5H131M131.5 485V487M132 485.5H133M133 485.5H134M134.5 484V486M135 484.5H136M136 484.5H137M137 484.5H138M138.5 483V485M139 483.5H140M140 483.5H141M141 483.5H142M142.5 482V484M143 482.5H144M144 482.5H145M145 482.5H146M146 482.5H147M147.5 481V483M148 481.5H149M149 481.5H150M150.5 480V482M151 480.5H152M152 480.5H153M153.5 480V482M154 481.5H155M155.5 480V482M156 480.5H157M157 480.5H158M158.5 479V481M159 479.5H160M160 479.5H161M161.5 478V480M162 478.5H163M163 478.5H164M164 478.5H165M165 478.5H166M166 478.5H167M167 478.5H168M168 478.5H169M169.5 477V479M170 477.5H171M171 477.5H172M172 477.5H173M173 477.5H174M174 477.5H175M175.5 476V478M176.5 476V478M177 477.5H178M178 477.5H179M179.5 476V478M180 476.5H181M181 476.5H182M182.5 475V477M183.5 475V477M184.5 475V477M185.5 475V477M186.5 475V477M187.5 475V477M188.5 475V477M189 475.5H190M190 475.5H191M191 475.5H192M192 475.5H193M193.5 474V476M194 474.5H195M195 474.5H196M196 474.5H197M197 474.5H198M198 474.5H199M199 474.5H200M200 474.5H201M201.5 473V475M202 473.5H203M203 473.5H204M204 473.5H205M205 473.5H206M206 473.5H207M207.5 472V474M208 472.5H209M209 472.5H210M210 472.5H211M211 472.5H212M212 472.5H213M213 472.5H214M214.5 471V473M215.5 471V473M216.5 471V473M217.5 471V473M218.5 471V473M219 471.5H220M220 471.5H221M221 471.5H222M222 471.5H223M223.5 470V472M224 470.5H225M225 470.5H226M226 470.5H227M227 470.5H228M228 470.5H229M229 470.5H230M230 470.5H231M231 470.5H232M232 470.5H233M233 470.5H234M234.5 469V471M235 469.5H236M236 469.5H237M237 469.5H238M238 469.5H239M239 469.5H240M240.5 468V470M241.5 468V470M242.5 468V470M243 468.5H244M244 468.5H245M245 468.5H246M246 468.5H247M247 468.5H248M248.5 467V469M249.5 467V469M250 468.5H251M251 468.5H252M252 468.5H253M253.5 467V469M254 467.5H255M255 467.5H256M256 467.5H257M257 467.5H258M258.5 467V469M259 468.5H260M260 468.5H261M261 468.5H262M262 468.5H263M263.5 467V469M264 467.5H265M265 467.5H266M266 467.5H267M267 467.5H268M268 467.5H269M269 467.5H270M270.5 467V469M271.5 467V469M272.5 466V468M273 466.5H274M274 466.5H275M275.5 466V468M276.5 466V468M277 466.5H278M278 466.5H279M279 466.5H280M280 466.5H281M281 466.5H282M282 466.5H283M283 466.5H284M284 466.5H285M285 466.5H286M286 466.5H287M287.5 465V467M288 465.5H289M289 465.5H290M290 465.5H291M291 465.5H292M292 465.5H293M293 465.5H294M294 465.5H295M295.5 464V466M296 464.5H297M297 464.5H298M298 464.5H299M299.5 463V465M300 463.5H301M301 463.5H302M302 463.5H303M303 463.5H304M304 463.5H305M305 463.5H306M306.5 462V464M307 462.5H308M308 462.5H309M309 462.5H310M310.5 462V464M311.5 462V464M312 462.5H313M313 462.5H314M314 462.5H315M315 462.5H316M316 462.5H317M317 462.5H318M318.5 461V463M319 461.5H320M320 461.5H321M321 461.5H322M322.5 461V463M323 462.5H324M324.5 461V463M325 461.5H326M326 461.5H327M327.5 461V463M328.5 461V463M329 461.5H330M330 461.5H331M331 461.5H332M332 461.5H333M333 461.5H334M334 461.5H335M335 461.5H336M336.5 460V462M337 460.5H338M338 460.5H339M339 460.5H340M340.5 460V462M341.5 460V462M342.5 459V461M343 459.5H344M344 459.5H345M345.5 459V461M346 460.5H347M347.5 459V461M348 459.5H349M349 459.5H350M350 459.5H351M351.5 458V460M352 458.5H353M353 458.5H354M354 458.5H355M355 458.5H356M356 458.5H357M357 458.5H358M358 458.5H359M359 458.5H360M360 458.5H361M361 458.5H362M362 458.5H363M363 458.5H364M364.5 458V460M365.5 458V460M366.5 458V460M367 459.5H368M368 459.5H369M369 459.5H370M370 459.5H371M371 459.5H372M372 459.5H373M373 459.5H374M374.5 458V460M375 458.5H376M376 458.5H377M377 458.5H378M378 458.5H379M379 458.5H380M380 458.5H381M381 458.5H382M382 458.5H383M383 458.5H384M384 458.5H385M385 458.5H386M386 458.5H387M387.5 457V459M388 457.5H389M389 457.5H390M390 457.5H391M391.5 456V458M392.5 456V458M393.5 456V458M394.5 456V458M395.5 456V458M396 456.5H397M397.5 455V457M398 455.5H399M399 455.5H400M400 455.5H401M401.5 455V457M402 456.5H403M403 456.5H404M404 456.5H405M405 456.5H406M406.5 455V457M407 455.5H408M408.5 454V456M409 454.5H410M410 454.5H411M411 454.5H412M412 454.5H413M413 454.5H414M414 454.5H415M415 454.5H416M416.5 453V455M417 453.5H418M418 453.5H419M419 453.5H420M420.5 453V455M421.5 453V455M422 453.5H423M423.5 452V454M424.5 452V454M425.5 452V454M426 452.5H427M427 452.5H428M428.5 452V454M429 453.5H430M430.5 452V454M431 452.5H432M432 452.5H433M433 452.5H434M434.5 452V454M435 453.5H436M436 453.5H437M437.5 453V455M438 454.5H439M439 454.5H440M440 454.5H441M441 454.5H442M442 454.5H443M443 454.5H444M444 454.5H445M445 454.5H446M446.5 454V456M447.5 454V456M448.5 454V456M449 455.5H450M450.5 454V456M451 454.5H452M452 454.5H453M453 454.5H454M454 454.5H455M455 454.5H456M456 454.5H457M457 454.5H458M458 454.5H459M459.5 453V455M460 453.5H461M461.5 452V454M462.5 452V454M463.5 452V454M464 452.5H465M465.5 451V453M466.5 451V453M467 452.5H468M468 452.5H469M469 452.5H470M470 452.5H471M471 452.5H472M472 452.5H473M473.5 451V453M474.5 451V453M475.5 451V453M476 451.5H477M477 451.5H478M478 451.5H479M479.5 451V453M480.5 451V453M481 451.5H482M482 451.5H483M483.5 451V453M484.5 451V453M485.5 451V453M486 452.5H487M487 452.5H488M488.5 452V454" fill="none" stroke="#d62728" stroke-width="1" shape-rendering="crispEdges"/><path d="M65.5 425V427M66.5 426V437M67.5 436V440M68.5 439V444M69.5 443V447M70.5 446V449M71.5 448V450M72.5 449V452M73.5 451V454M74.5 453V455M75.5 454V456M76.5 455V457M77.5 456V459M78.5 458V461M79 460.5H80M80.5 460V462M81.5 461V463M82.5 462V464M83.5 463V465M84.5 464V466M85.5 465V467M86.5 466V469M87 468.5H88M88.5 468V470M89 469.5H90M90.5 469V471M91.5 470V472M92 471.5H93M93.5 471V474M94 473.5H95M95.5 473V475M96.5 474V476M97.5 475V477M98.5 476V478M99.5 477V479M100 478.5H101M101.5 478V480M102 479.5H103M103 479.5H104M104.5 479V481M105 480.5H106M106 480.5H107M107.5 480V482M108 481.5H109M109.5 481V483M110.5 482V484M111.5 483V485M112.5 484V486M113 485.5H114M114 485.5H115M115.5 485V487M116.5 486V488M117.5 487V489M118 488.5H119M119.5 488V490M120.5 489V491M121 490.5H122M122.5 490V492M123 491.5H124M124.5 491V493M125.5 492V494M126 493.5H127M127.5 493V495M128.5 494V496M129.5 495V497M130 496.5H131M131.5 496V499M132 498.5H133M133 498.5H134M134 498.5H135M135 498.5H136M136.5 498V500M137.5 499V501M138 500.5H139M139.5 500V502M140 501.5H141M141 501.5H142M142 501.5H143M143 501.5H144M144 501.5H145M145 501.5H146M146 501.5H147M147.5 501V503M148 502.5H149M149 502.5H150M150 502.5H151M151.5 502V504M152 503.5H153M153.5 503V505M154 504.5H155M155.5 504V506M156 505.5H157M157.5 505V507M158 506.5H159M159 506.5H160M160.5 506V508M161.5 507V509M162 508.5H163M163 508.5H164M164 508.5H165M165 508.5H166M166 508.5H167M167.5 508V510M168 509.5H169M169.5 509V511M170 510.5H171M171.5 510V512M172 511.5H173M173 511.5H174M174.5 511V513M175 512.5H176M176 512.5H177M177 512.5H178M178.5 512V514M179 513.5H180M180.5 513V515M181.5 514V516M182.5 514V516M183.5 514V516M184 515.5H185M185.5 515V517M186 516.5H187M187 516.5H188M188.5 516V518M189 517.5H190M190 517.5H191M191 517.5H192M192.5 517V519M193 518.5H194M194 518.5H195M195 518.5H196M196.5 518V520M197 519.5H198M198.5 518V520M199.5 518V520M200 519.5H201M201.5 518V520M202.5 518V520M203 519.5H204M204.5 519V521M205 520.5H206M206 520.5H207M207 520.5H208M208 520.5H209M209 520.5H210M210 520.5H211M211.5 520V522M212 521.5H213M213 521.5H214M214.5 521V523M215.5 522V524M216 523.5H217M217 523.5H218M218.5 523V525M219 524.5H220M220 524.5H221M221.5 524V526M222 525.5H223M223.5 525V527M224 526.5H225M225 526.5H226M226.5 526V528M227.5 526V528M228 526.5H229M229 526.5H230M230 526.5H231M231 526.5H232M232 526.5H233M233.5 526V528M234 527.5H235M235 527.5H236M236 527.5H237M237.5 527V529M238.5 528V530M239 529.5H240M240.5 528V530M241.5 528V530M242 529.5H243M243 529.5H244M244 529.5H245M245.5 529V531M246 530.5H247M247 530.5H248M248.5 529V531M249.5 529V531M250 530.5H251M251.5 529V531M252 529.5H253M253 529.5H254M254 529.5H255M255 529.5H256M256 529.5H257M257 529.5H258M258.5 529V531M259.5 529V531M260 529.5H261M261.5 529V531M262.5 529V531M263 529.5H264M264 529.5H265M265.5 529V531M266.5 530V532M267 531.5H268M268 531.5H269M269 531.5H270M270.5 531V533M271 532.5H272M272 532.5H273M273 532.5H274M274.5 532V534M275.5 532V534M276 532.5H277M277.5 531V533M278.5 531V533M279 532.5H280M280 532.5H281M281 532.5H282M282 532.5H283M283.5 532V534M284.5 532V534M285.5 532V534M286 533.5H287M287 533.5H288M288 533.5H289M289 533.5H290M290 533.5H291M291 533.5H292M292.5 532V534M293 532.5H294M294 532.5H295M295 532.5H296M296.5 532V534M297 533.5H298M298 533.5H299M299.5 533V535M300 534.5H301M301 534.5H302M302 534.5H303M303 534.5H304M304 534.5H305M305 534.5H306M306 534.5H307M307 534.5H308M308 534.5H309M309.5 533V535M310 533.5H311M311.5 533V535M312.5 533V535M313.5 533V535M314.5 533V535M315 533.5H316M316 533.5H317M317 533.5H318M318 533.5H319M319 533.5H320M320 533.5H321M321 533.5H322M322.5 533V535M323 534.5H324M324 534.5H325M325 534.5H326M326 534.5H327M327.5 534V536M328 535.5H329M329 535.5H330M330 535.5H331M331 535.5H332M332 535.5H333M333 535.5H334M334 535.5H335M335.5 535V537M336.5 535V537M337.5 535V537M338 536.5H339M339.5 535V537M340 535.5H341M341.5 535V537M342 536.5H343M343 536.5H344M344.5 535V537M345 535.5H346M346.5 535V537M347.5 535V537M348 535.5H349M349 535.5H350M350.5 535V537M351 536.5H352M352 536.5H353M353.5 536V538M354 537.5H355M355 537.5H356M356 537.5H357M357 537.5H358M358 537.5H359M359.5 536V538M360 536.5H361M361 536.5H362M362 536.5H363M363 536.5H364M364 536.5H365M365.5 536V538M366.5 536V538M367.5 535V537M368 535.5H369M369 535.5H370M370.5 535V537M371 536.5H372M372 536.5H373M373 536.5H374M374 536.5H375M375.5 535V537M376 535.5H377M377 535.5H378M378 535.5H379M379 535.5H380M380 535.5H381M381.5 535V537M382 536.5H383M383 536.5H384M384 536.5H385M385 536.5H386M386.5 536V538M387 537.5H388M388 537.5H389M389 537.5H390M390.5 536V538M391.5 536V538M392 537.5H393M393 537.5H394M394 537.5H395M395 537.5H396M396.5 537V539M397 538.5H398M398.5 538V540M399 539.5H400M400.5 538V540M401 538.5H402M402.5 538V540M403 539.5H404M404.5 539V541M405 540.5H406M406.5 539V541M407 539.5H408M408 539.5H409M409 539.5H410M410.5 539V541M411 540.5H412M412.5 540V542M413 541.5H414M414 541.5H415M415.5 540V542M416 540.5H417M417.5 540V542M418.5 540V542M419.5 540V542M420 541.5H421M421.5 540V542M422 540.5H423M423.5 540V542M424 541.5H425M425 541.5H426M426 541.5H427M427.5 541V543M428 542.5H429M429 542.5H430M430 542.5H431M431.5 541V543M432 541.5H433M433 541.5H434M434 541.5H435M435 541.5H436M436.5 541V543M437 542.5H438M438.5 541V543M439 541.5H440M440 541.5H441M441 541.5H442M442 541.5H443M443 541.5H444M444 541.5H445M445.5 540V542M446 540.5H447M447 540.5H448M448.5 539V541M449 539.5H450M450 539.5H451M451 539.5H452M452.5 538V540M453.5 538V540M454 539.5H455M455 539.5H456M456 539.5H457M457.5 539V541M458 540.5H459M459 540.5H460M460 540.5H461M461 540.5H462M462.5 540V542M463 541.5H464M464 541.5H465M465 541.5H466M466.5 540V542M467.5 540V542M468.5 540V542M469 540.5H470M470 540.5H471M471.5 539V541M472.5 539V541M473.5 539V541M474 539.5H475M475 539.5H476M476 539.5H477M477 539.5H478M478 539.5H479M479 539.5H480M480 539.5H481M481 539.5H482M482 539.5H483M483.5 538V540M484 538.5H485M485 538.5H486M486 538.5H487M487 538.5H488M488.5 537V539" fill="none" stroke="#2389be" stroke-width="1" shape-rendering="crispEdges"/><path d="M41.5 816V818M42.5 805V817M43.5 799V806M44.5 795V800M45.5 792V796M46.5 790V793M47.5 787V791M48.5 784V788M49.5 783V785M50.5 781V784M51.5 779V782M52.5 777V780M53.5 775V778M54.5 773V776M55.5 772V774M56.5 770V773M57.5 769V771M58.5 767V770M59 767.5H60M60.5 765V768M61 765.5H62M62.5 763V766M63.5 762V764M64.5 761V763M65.5 760V762M66.5 759V761M67.5 758V760M68.5 757V759M69.5 756V758M70.5 755V757M71 755.5H72M72.5 753V756M73 753.5H74M74.5 752V754M75.5 751V753M76.5 750V752M77.5 749V751M78.5 748V750M79.5 747V749M80 747.5H81M81 747.5H82M82.5 746V748M83.5 745V747M84.5 744V746M85 744.5H86M86.5 743V745M87.5 742V744M88 742.5H89M89.5 741V743M90.5 740V742M91 740.5H92M92.5 738V741M93 738.5H94M94.5 737V739M95 737.5H96M96.5 736V738M97.5 735V737M98 735.5H99M99.5 734V736M100.5 733V735M101 733.5H102M102 733.5H103M103.5 731V734M104.5 730V732M105 730.5H106M106.5 729V731M107 729.5H108M108.5 727V730M109 727.5H110M110.5 726V728M111 726.5H112M112.5 724V727M113 724.5H114M114.5 723V725M115.5 722V724M116 722.5H117M117 722.5H118M118.5 721V723M119 721.5H120M120 721.5H121M121 721.5H122M122.5 720V722M123 720.5H124M124.5 719V721M125 719.5H126M126 719.5H127M127 719.5H128M128 719.5H129M129.5 718V720M130.5 717V719M131 717.5H132M132 717.5H133M133 717.5H134M134.5 716V718M135 716.5H136M136 716.5H137M137.5 714V717M138 714.5H139M139 714.5H140M140 714.5H141M141 714.5H142M142.5 713V715M143.5 712V714M144 712.5H145M145 712.5H146M146.5 710V713M147 710.5H148M148 710.5H149M149.5 709V711M150 709.5H151M151.5 708V710M152 708.5H153M153 708.5H154M154 708.5H155M155.5 707V709M156.5 706V708M157 706.5H158M158 706.5H159M159 706.5H160M160.5 705V707M161 705.5H162M162 705.5H163M163 705.5H164M164.5 704V706M165 704.5H166M166 704.5H167M167.5 703V705M168 703.5H169M169 703.5H170M170 703.5H171M171.5 702V704M172.5 701V703M173 701.5H174M174 701.5H175M175 701.5H176M176.5 700V702M177 700.5H178M178 700.5H179M179 700.5H180M180.5 699V701M181.5 699V701M182.5 699V701M183 699.5H184M184.5 698V700M185.5 698V700M186.5 698V700M187 698.5H188M188 698.5H189M189 698.5H190M190 698.5H191M191.5 697V699M192 697.5H193M193 697.5H194M194 697.5H195M195 697.5H196M196.5 696V698M197 696.5H198M198 696.5H199M199.5 695V697M200 695.5H201M201.5 694V696M202 694.5H203M203 694.5H204M204 694.5H205M205.5 693V695M206 693.5H207M207 693.5H208M208.5 692V694M209 692.5H210M210 692.5H211M211.5 691V693M212 691.5H213M213.5 690V692M214 690.5H215M215 690.5H216M216.5 689V691M217 689.5H218M218 689.5H219M219 689.5H220M220.5 688V690M221 688.5H222M222 688.5H223M223 688.5H224M224 688.5H225M225 688.5H226M226 688.5H227M227 688.5H228M228 688.5H229M229 688.5H230M230 688.5H231M231.5 687V689M232 687.5H233M233.5 687V689M234.5 687V689M235 687.5H236M236 687.5H237M237 687.5H238M238.5 686V688M239 686.5H240M240 686.5H241M241.5 686V688M242 687.5H243M243 687.5H244M244.5 686V688M245 686.5H246M246 686.5H247M247 686.5H248M248.5 685V687M249 685.5H250M250.5 685V687M251 686.5H252M252 686.5H253M253 686.5H254M254.5 685V687M255 685.5H256M256 685.5H257M257 685.5H258M258 685.5H259M259 685.5H260M260.5 684V686M261 684.5H262M262 684.5H263M263 684.5H264M264 684.5H265M265 684.5H266M266.5 683V685M267 683.5H268M268.5 683V685M269 684.5H270M270 684.5H271M271 684.5H272M272.5 683V685M273 683.5H274M274 683.5H275M275 683.5H276M276.5 683V685M277.5 683V685M278 683.5H279M279 683.5H280M280.5 682V684M281 682.5H282M282 682.5H283M283 682.5H284M284.5 682V684M285 683.5H286M286.5 682V684M287 682.5H288M288.5 681V683M289 681.5H290M290 681.5H291M291 681.5H292M292 681.5H293M293 681.5H294M294.5 680V682M295 680.5H296M296 680.5H297M297.5 680V682M298.5 680V682M299 680.5H300M300.5 680V682M301.5 680V682M302.5 680V682M303.5 680V682M304 680.5H305M305 680.5H306M306.5 680V682M307 681.5H308M308.5 680V682M309 680.5H310M310 680.5H311M311 680.5H312M312 680.5H313M313 680.5H314M314.5 679V681M315 679.5H316M316 679.5H317M317 679.5H318M318 679.5H319M319 679.5H320M320 679.5H321M321 679.5H322M322.5 678V680M323 678.5H324M324 678.5H325M325 678.5H326M326 678.5H327M327 678.5H328M328 678.5H329M329 678.5H330M330 678.5H331M331 678.5H332M332 678.5H333M333 678.5H334M334 678.5H335M335 678.5H336M336 678.5H337M337 678.5H338M338.5 677V679M339 677.5H340M340 677.5H341M341.5 676V678M342 676.5H343M343.5 676V678M344.5 676V678M345 676.5H346M346 676.5H347M347 676.5H348M348 676.5H349M349 676.5H350M350 676.5H351M351 676.5H352M352 676.5H353M353 676.5H354M354 676.5H355M355 676.5H356M356 676.5H357M357.5 676V678M358 677.5H359M359.5 677V679M360 678.5H361M361 678.5H362M362 678.5H363M363 678.5H364M364 678.5H365M365 678.5H366M366.5 678V680M367.5 678V680M368 678.5H369M369 678.5H370M370 678.5H371M371.5 677V679M372 677.5H373M373 677.5H374M374 677.5H375M375.5 676V678M376 676.5H377M377 676.5H378M378 676.5H379M379 676.5H380M380.5 675V677M381 675.5H382M382 675.5H383M383 675.5H384M384 675.5H385M385.5 674V676M386 674.5H387M387.5 674V676M388.5 674V676M389 674.5H390M390 674.5H391M391.5 673V675M392 673.5H393M393 673.5H394M394 673.5H395M395 673.5H396M396 673.5H397M397 673.5H398M398.5 672V674M399.5 671V673M400 671.5H401M401 671.5H402M402 671.5H403M403 671.5H404M404 671.5H405M405 671.5H406M406 671.5H407M407.5 670V672M408 670.5H409M409 670.5H410M410 670.5H411M411 670.5H412M412 670.5H413M413.5 669V671M414.5 669V671M415.5 669V671M416.5 669V671M417.5 669V671M418 669.5H419M419 669.5H420M420 669.5H421M421 669.5H422M422 669.5H423M423 669.5H424M424.5 669V671M425 670.5H426M426 670.5H427M427 670.5H428M428 670.5H429M429 670.5H430M430.5 670V672M431.5 670V672M432 670.5H433M433 670.5H434M434 670.5H435M435 670.5H436M436 670.5H437M437 670.5H438M438.5 670V672M439.5 670V672M440 670.5H441M441.5 670V672M442 671.5H443M443 671.5H444M444.5 671V673M445 672.5H446M446.5 671V673M447 671.5H448M448.5 671V673M449.5 671V673M450 671.5H451M451 671.5H452M452 671.5H453M453 671.5H454M454 671.5H455M455 671.5H456M456 671.5H457M457 671.5H458M458 671.5H459M459.5 670V672M460.5 670V672M461.5 670V672M462.5 669V671M463.5 669V671M464.5 669V671M465 669.5H466M466.5 669V671M467 670.5H468M468.5 670V672M469 671.5H470M470.5 670V672M471 670.5H472M472 670.5H473M473.5 670V672M474 671.5H475M475 671.5H476M476.5 671V673M477.5 671V673M478.5 671V673M479 672.5H480M480.5 672V674M481.5 672V674M482 672.5H483M483 672.5H484M484.5 672V674M485.5 672V674" fill="none" stroke="#1f4e9e" stroke-width="1" shape-rendering="crispEdges"/><path d="M619.9 430.5H949.5" stroke="#777" stroke-width="1"/><path d="M619.9 430.5L949.5 205.4" stroke="#222" stroke-width="1.2"/><path d="M619 430.5H620M620 430.5H621M621.5 430V432M622 431.5H623M623 431.5H624M624.5 431V433M625 432.5H626M626 432.5H627M627.5 432V434M628 433.5H629M629 433.5H630M630 433.5H631M631.5 433V435M632 434.5H633M633 434.5H634M634.5 434V436M635 435.5H636M636 435.5H637M637 435.5H638M638.5 435V437M639 436.5H640M640 436.5H641M641 436.5H642M642.5 436V438M643 437.5H644M644 437.5H645M645 437.5H646M646.5 437V439M647 438.5H648M648 438.5H649M649 438.5H650M650.5 438V440M651 439.5H652M652 439.5H653M653 439.5H654M654 439.5H655M655.5 439V441M656 440.5H657M657 440.5H658M658 440.5H659M659 440.5H660M660.5 440V442M661 441.5H662M662 441.5H663M663 441.5H664M664 441.5H665M665 441.5H666M666.5 441V443M667 442.5H668M668 442.5H669M669 442.5H670M670 442.5H671M671 442.5H672M672 442.5H673M673.5 442V444M674 443.5H675M675 443.5H676M676 443.5H677M677 443.5H678M678 443.5H679M679 443.5H680M680 443.5H681M681 443.5H682M682 443.5H683M683 443.5H684M684 443.5H685M685.5 443V445M686 444.5H687M687 444.5H688M688 444.5H689M689 444.5H690M690 444.5H691M691 444.5H692M692 444.5H693M693 444.5H694M694 444.5H695M695 444.5H696M696 444.5H697M697 444.5H698M698 444.5H699M699 444.5H700M700 444.5H701M701 444.5H702M702 444.5H703M703 444.5H704M704 444.5H705M705 444.5H706M706 444.5H707M707 444.5H708M708 444.5H709M709 444.5H710M710 444.5H711M711 444.5H712M712.5 443V445M713 443.5H714M714 443.5H715M715 443.5H716M716 443.5H717M717 443.5H718M718 443.5H719M719 443.5H720M720 443.5H721M721 443.5H722M722 443.5H723M723 443.5H724M724.5 442V444M725 442.5H726M726 442.5H727M727 442.5H728M728 442.5H729M729 442.5H730M730 442.5H731M731 442.5H732M732.5 441V443M733 441.5H734M734 441.5H735M735 441.5H736M736 441.5H737M737 441.5H738M738 441.5H739M739.5 440V442M740 440.5H741M741 440.5H742M742 440.5H743M743 440.5H744M744 440.5H745M745.5 439V441M746 439.5H747M747 439.5H748M748 439.5H749M749 439.5H750M750.5 438V440M751 438.5H752M752 438.5H753M753 438.5H754M754.5 437V439M755 437.5H756M756 437.5H757M757 437.5H758M758.5 436V438M759 436.5H760M760 436.5H761M761.5 435V437M762 435.5H763M763 435.5H764M764 435.5H765M765.5 434V436M766 434.5H767M767 434.5H768M768.5 433V435M769 433.5H770M770 433.5H771M771.5 432V434M772 432.5H773M773.5 431V433M774 431.5H775M775 431.5H776M776.5 430V432M777 430.5H778M778.5 429V431M779 429.5H780M780.5 428V430M781 428.5H782M782 428.5H783M783.5 427V429M784 427.5H785M785.5 426V428M786 426.5H787M787.5 425V427M788 425.5H789M789.5 424V426M790 424.5H791M791.5 423V425M792 423.5H793M793.5 422V424M794 422.5H795M795.5 421V423M796 421.5H797M797.5 420V422M798 420.5H799M799.5 419V421M800 419.5H801M801.5 418V420M802 418.5H803M803.5 417V419M804.5 416V418M805 416.5H806M806.5 415V417M807 415.5H808M808.5 414V416M809.5 413V415M810 413.5H811M811.5 412V414M812 412.5H813M813.5 411V413M814.5 410V412M815 410.5H816M816.5 409V411M817.5 408V410M818 408.5H819M819.5 407V409M820.5 406V408M821 406.5H822M822.5 405V407M823.5 404V406M824 404.5H825M825.5 403V405M826.5 402V404M827.5 401V403M828 401.5H829M829.5 400V402M830.5 399V401M831.5 398V400M832 398.5H833M833.5 397V399M834.5 396V398M835.5 395V397M836.5 394V396M837 394.5H838M838.5 393V395M839.5 392V394M840.5 391V393M841.5 390V392M842.5 389V391M843.5 388V390M844.5 387V389M845 387.5H846M846.5 386V388M847.5 385V387M848.5 384V386M849.5 383V385M850.5 382V384M851.5 381V383M852.5 380V382M853.5 379V381M854.5 378V380M855.5 377V379M856.5 376V378M857.5 375V377M858.5 374V376M859.5 373V375M860.5 372V374M861.5 371V373M862.5 370V372M863.5 368V371M864.5 367V369M865.5 366V368M866.5 365V367M867.5 364V366M868.5 363V365M869.5 362V364M870.5 361V363M871.5 359V362M872.5 358V360M873.5 357V359M874.5 356V358M875.5 355V357M876.5 353V356M877.5 352V354M878.5 351V353M879.5 349V352M880.5 348V350M881.5 347V349M882.5 345V348M883.5 344V346M884.5 343V345M885.5 341V344M886.5 340V342M887.5 339V341M888.5 337V340M889.5 336V338M890.5 334V337M891.5 333V335M892.5 331V334M893.5 330V332M894.5 328V331M895.5 327V329M896.5 325V328M897.5 324V326M898.5 322V325M899.5 321V323M900.5 319V322M901.5 317V320M902.5 316V318M903.5 314V317M904.5 312V315M905.5 311V313M906.5 309V312M907.5 307V310M908.5 306V308M909.5 304V307M910.5 302V305M911.5 300V303M912.5 298V301M913.5 297V299M914.5 295V298M915.5 293V296M916.5 291V294M917.5 289V292M918.5 287V290M919.5 285V288M920.5 283V286M921.5 281V284M922.5 279V282M923.5 277V280M924.5 275V278M925.5 273V276M926.5 271V274M927.5 268V272M928.5 266V269M929.5 264V267M930.5 262V265M931.5 259V263M932.5 257V260M933.5 254V258M934.5 252V255M935.5 249V253M936.5 247V250M937.5 244V248M938.5 241V245M939.5 239V242M940.5 236V240M941.5 233V237M942.5 230V234M943.5 227V231M944.5 223V228M945.5 220V224M946.5 217V221M947.5 213V218M948.5 209V214M949.5 205V210" fill="none" stroke="#d62728" stroke-width="1" shape-rendering="crispEdges"/></svg>
<div class="mon" style="left:581px;top:500.1px;width:165px;height:59.7px"></div>
<div class="t lab" style="left:589.5px;top:510.20000000000005px;font-size:15px">Wealth of 1st Quintile</div>
<div class="mv" style="left:589px;top:532.8000000000001px;width:149px">-5980</div>
<div class="mon" style="left:581px;top:575.1px;width:165px;height:59.7px"></div>
<div class="t lab" style="left:589.5px;top:585.2px;font-size:15px">Wealth of 2nd Quinti...</div>
<div class="mv" style="left:589px;top:607.8000000000001px;width:149px">2388</div>
<div class="mon" style="left:581px;top:644.9px;width:165px;height:59.7px"></div>
<div class="t lab" style="left:589.5px;top:655.0px;font-size:15px">Wealth of 3rd Quintile</div>
<div class="mv" style="left:589px;top:677.6px;width:149px">13278</div>
<div class="mon" style="left:581px;top:719.9px;width:165px;height:59.7px"></div>
<div class="t lab" style="left:589.5px;top:730.0px;font-size:15px">Wealth of 4th Quintile</div>
<div class="mv" style="left:589px;top:752.6px;width:149px">28522</div>
<div class="mon" style="left:581px;top:794.9px;width:165px;height:59.7px"></div>
<div class="t lab" style="left:589.5px;top:805.0px;font-size:15px">Wealth of 5th Quintile</div>
<div class="mv" style="left:589px;top:827.6px;width:149px">61792</div>
<div class="mon" style="left:781px;top:500.1px;width:180px;height:59.7px"></div>
<div class="t lab" style="left:789.5px;top:510.20000000000005px;font-size:15px">Top 1 Wealth</div>
<div class="mv" style="left:789px;top:532.8000000000001px;width:164px">668</div>
<div class="mon" style="left:781px;top:575.1px;width:180px;height:59.7px"></div>
<div class="t lab" style="left:789.5px;top:585.2px;font-size:15px">Top 1% Wealth</div>
<div class="mv" style="left:789px;top:607.8000000000001px;width:164px">5714</div>
<div class="mon" style="left:781px;top:644.9px;width:180px;height:59.7px"></div>
<div class="t lab" style="left:789.5px;top:655.0px;font-size:15px">Median Wealth</div>
<div class="mv" style="left:789px;top:677.6px;width:164px">66</div>
<div class="mon" style="left:781px;top:719.9px;width:180px;height:59.7px"></div>
<div class="t lab" style="left:789.5px;top:730.0px;font-size:15px">Average of Middle Class</div>
<div class="mv" style="left:789px;top:752.6px;width:164px">73.65</div>
<div class="mon" style="left:781px;top:794.9px;width:180px;height:59.7px"></div>
<div class="t lab" style="left:789.5px;top:805.0px;font-size:15px">Median of Middle Class</div>
<div class="mv" style="left:789px;top:827.6px;width:164px">66</div>
</body></html>
